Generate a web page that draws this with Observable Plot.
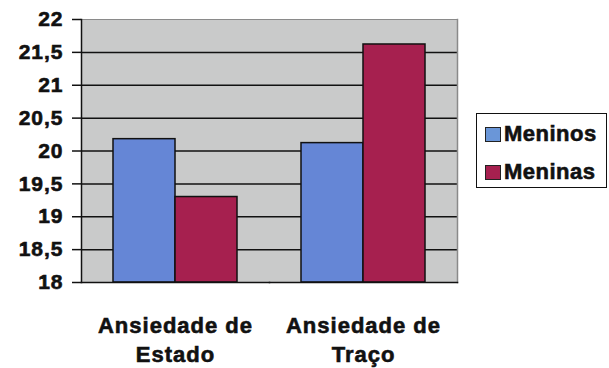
<!DOCTYPE html>
<html>
<head>
<meta charset="utf-8">
<script src="https://cdn.jsdelivr.net/npm/d3@7"></script>
<script src="https://cdn.jsdelivr.net/npm/@observablehq/plot@0.6"></script>
<style>
  html, body { margin: 0; padding: 0; background: #fff; }
  #wrap { position: relative; width: 609px; height: 368px; }
  #wrap svg text { letter-spacing: 1px; font-weight: bold !important; font-family: "Liberation Sans", Arial, sans-serif; stroke: #111; stroke-width: 0.6px; }
  #legend {
    position: absolute; left: 476px; top: 113px; width: 129px; height: 73px;
    border: 1.5px solid #111; background: #fff;
    font-family: "Liberation Sans", Arial, sans-serif; font-weight: bold; font-size: 22px;
    letter-spacing: 0.5px; color: #111; -webkit-text-stroke: 0.6px #111;
  }
  .item { position: absolute; left: 8px; display: flex; align-items: center; }
  .sw { width: 14px; height: 13px; border: 1.5px solid #222; margin-right: 3px; }
</style>
</head>
<body>
<div id="wrap"><div id="legend"></div></div>
<script>
const categories = ["Ansiedade de\nEstado", "Ansiedade de\nTraço"];
const series = ["Meninos", "Meninas"];
const meninos = [20.18, 20.12];
const meninas = [19.30, 21.62];
const yMin = 18;
const yMax = 22;
const yTicks = [18, 18.5, 19, 19.5, 20, 20.5, 21, 21.5, 22];
const colors = ["#6586d6", "#a6204f"];
const legendColors = ["#6a96d8", "#a6204f"];

const data = categories.flatMap((c, i) => [
  {cat: c, s: series[0], v: meninos[i]},
  {cat: c, s: series[1], v: meninas[i]}
]);
const fmt = d => String(d).replace(".", ",");

const chart = Plot.plot({
  width: 609,
  height: 368,
  marginLeft: 81,
  marginRight: 152,
  marginTop: 19,
  marginBottom: 86,
  style: {fontFamily: "'Liberation Sans', Arial, sans-serif", fontWeight: "bold", fontSize: "21px", color: "#111", background: "transparent", overflow: "visible"},
  fx: {domain: categories, padding: 0, axis: null},
  x: {domain: series, paddingInner: 0, paddingOuter: 0.5, axis: null},
  y: {domain: [yMin, yMax], axis: null},
  color: {domain: series, range: colors},
  marks: [
    Plot.frame({fill: "#c9caca", stroke: "#c9caca", strokeWidth: 1}),
    Plot.gridY(yTicks.slice(1, -1), {stroke: "#111", strokeOpacity: 1, strokeWidth: 1.5}),
    Plot.ruleY([yMax], {stroke: "#8a8a8a", strokeWidth: 1}),
    Plot.frame({anchor: "right", facetAnchor: "right", stroke: "#8a8a8a", strokeWidth: 1.5}),
    Plot.barY(data, {fx: "cat", x: "s", y1: yMin, y2: "v", fill: "s", stroke: "#111", strokeWidth: 1.5}),
    Plot.frame({anchor: "bottom", stroke: "#111", strokeWidth: 1.5}),
    Plot.frame({anchor: "left", facetAnchor: "left", stroke: "#111", strokeWidth: 1.5}),
    Plot.axisY(yTicks, {label: null, tickSize: 9, tickPadding: 9, tickFormat: fmt, fontSize: 21, fontWeight: "bold", stroke: "#111", strokeWidth: 1.5, fill: "#111"}),
    Plot.text(categories, {fx: d => d, text: d => d, frameAnchor: "bottom", dy: 30, lineAnchor: "top", lineHeight: 1.32, fontSize: 22, fontWeight: "bold", fill: "#111"})
  ]
});
document.getElementById("wrap").prepend(chart);

const legend = document.getElementById("legend");
series.forEach((s, i) => {
  const item = document.createElement("div");
  item.className = "item";
  item.style.top = (i === 0 ? 7 : 45) + "px";
  const sw = document.createElement("div");
  sw.className = "sw";
  sw.style.background = legendColors[i];
  const t = document.createElement("span");
  t.textContent = s;
  item.append(sw, t);
  legend.append(item);
});
</script>
</body>
</html>
